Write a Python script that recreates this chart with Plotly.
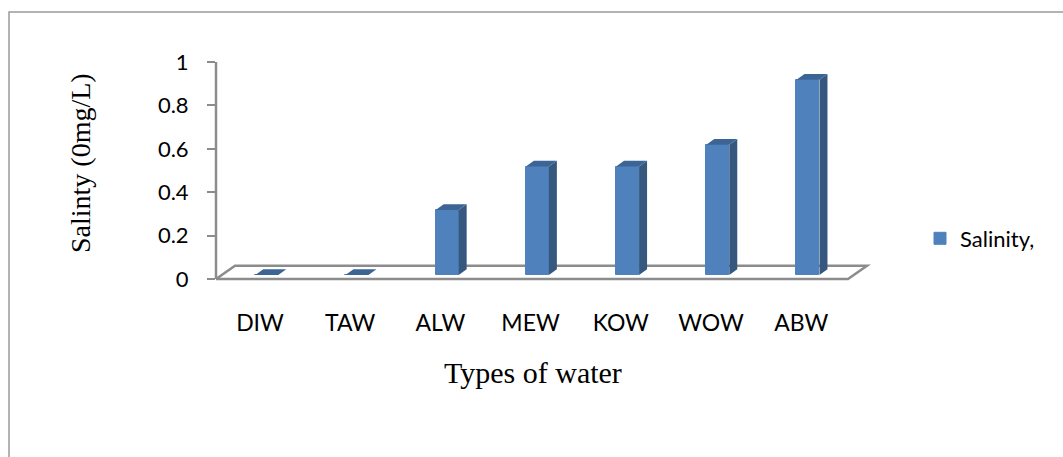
import plotly.graph_objects as go

# ---- data -------------------------------------------------------------
categories = ["DIW", "TAW", "ALW", "MEW", "KOW", "WOW", "ABW"]
salinity = [0, 0, 0.3, 0.5, 0.5, 0.6, 0.9]
y_tick_vals = [0, 0.2, 0.4, 0.6, 0.8, 1]
y_tick_text = ["0", "0.2", "0.4", "0.6", "0.8", "1"]
series_name = "Salinity,"

# ---- page geometry (pixels) -------------------------------------------
W, H = 1063, 457
L, R, T, B = 216, 183, 58, 167
plot_w = W - L - R
plot_h = H - T - B
px_per_x = 90.2          # pixels per category step
px_per_y = 217.0         # pixels per salinity unit
x0_px = 260.0            # pixel column of the first category label
y0_px = 279.0            # pixel row of value 0 (front edge of the floor)

x_range = [(L - x0_px) / px_per_x, (W - R - x0_px) / px_per_x]
y_range = [(y0_px - (H - B)) / px_per_y, (y0_px - T) / px_per_y]

# ---- pseudo-3D column styling -------------------------------------------
bar_w = 23 / px_per_x            # width of the front face
bar_shift = 0.075                # columns sit a little behind the label plane
base = 4 / px_per_y              # columns stand on the middle of the floor
depth_dx = 8 / px_per_x          # depth of a column (side / top faces)
depth_dy = 5.7 / px_per_y
floor_left = x_range[0]
floor_right = (848 - x0_px) / px_per_x
floor_dx = 19 / px_per_x
floor_dy = 13.3 / px_per_y

FRONT = "#4F81BD"
SIDE = "#36587F"
TOP = "#3C6595"
GRID = "#8C8C8C"

xs = [i + bar_shift for i in range(len(categories))]

# side and top faces as filled polygons, derived from each value
side_x, side_y, top_x, top_y = [], [], [], []
for xc, v in zip(xs, salinity):
    xl = xc - bar_w / 2
    xr = xc + bar_w / 2
    top = base + v
    side_x += [xr, xr, xr + depth_dx, xr + depth_dx, xr, None]
    side_y += [base, top, top + depth_dy, base + depth_dy, base, None]
    top_x += [xl, xr, xr + depth_dx, xl + depth_dx, xl, None]
    top_y += [top, top, top + depth_dy, top + depth_dy, top, None]

fig = go.Figure()

fig.add_trace(go.Bar(
    x=xs, y=salinity, base=base, width=bar_w,
    marker=dict(color=FRONT, line=dict(color=FRONT, width=1)),
    name=series_name, showlegend=True, hoverinfo="skip",
))
fig.add_trace(go.Scatter(
    x=side_x, y=side_y, mode="lines", fill="toself", fillcolor=SIDE,
    line=dict(width=0, color=SIDE), showlegend=False, hoverinfo="skip",
))
fig.add_trace(go.Scatter(
    x=top_x, y=top_y, mode="lines", fill="toself", fillcolor=TOP,
    line=dict(width=0, color=TOP), showlegend=False, hoverinfo="skip",
))

# floor outline
floor_path = (
    f"M {floor_left},0 L {floor_right},0 "
    f"L {floor_right + floor_dx},{floor_dy} L {floor_left + floor_dx},{floor_dy} Z"
)
shapes = [
    dict(type="path", path=floor_path, xref="x", yref="y", layer="below",
         line=dict(color=GRID, width=2.5)),
    # value axis line
    dict(type="line", xref="paper", yref="y", x0=0, x1=0, y0=0, y1=1,
         layer="below", line=dict(color=GRID, width=2.5)),
    # chart frame
    dict(type="rect", xref="paper", yref="paper",
         x0=(9 - L) / plot_w, x1=(W + 20 - L) / plot_w,
         y0=(H - B - (H + 20)) / plot_h, y1=(H - B - 12) / plot_h,
         line=dict(color="#9A9A9A", width=1.5), fillcolor="rgba(0,0,0,0)"),
]

annotations = [
    dict(text="Salinty (0mg/L)", textangle=-90, showarrow=False,
         xref="paper", yref="paper",
         x=(80 - L) / plot_w, y=(H - B - 163) / plot_h,
         xanchor="center", yanchor="middle",
         font=dict(family="Liberation Serif", size=28, color="#000000")),
    dict(text="Types of water", showarrow=False,
         xref="paper", yref="paper",
         x=(533 - L) / plot_w, y=(H - B - 372) / plot_h,
         xanchor="center", yanchor="middle",
         font=dict(family="Liberation Serif", size=30, color="#000000")),
]

fig.update_layout(
    width=W, height=H,
    margin=dict(l=L, r=R, t=T, b=B, pad=0),
    paper_bgcolor="white", plot_bgcolor="white",
    bargap=0,
    shapes=shapes, annotations=annotations,
    font=dict(family="Lato", color="#000000"),
    legend=dict(
        xref="container", yref="container",
        x=920 / W, y=1 - 238.5 / H, xanchor="left", yanchor="middle",
        font=dict(family="Lato", size=22, color="#000000"),
        bgcolor="rgba(0,0,0,0)", borderwidth=0,
    ),
    xaxis=dict(
        range=x_range, tickmode="array",
        tickvals=list(range(len(categories))), ticktext=categories,
        showgrid=False, zeroline=False, showline=False, ticks="",
        ticklabelstandoff=17,
        tickfont=dict(family="Lato", size=23, color="#000000"),
        fixedrange=True,
    ),
    yaxis=dict(
        range=y_range, tickmode="array",
        tickvals=y_tick_vals, ticktext=y_tick_text,
        showgrid=False, zeroline=False, showline=False,
        ticks="outside", ticklen=8, tickwidth=2, tickcolor=GRID,
        ticklabelstandoff=14,
        tickfont=dict(family="Lato", size=22, color="#000000"),
        fixedrange=True,
    ),
)

fig.write_html("out.html")
